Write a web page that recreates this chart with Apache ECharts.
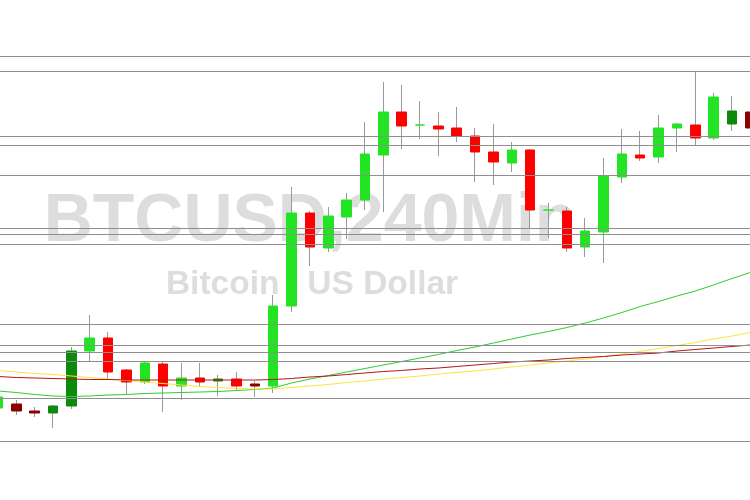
<!DOCTYPE html>
<html>
<head>
<meta charset="utf-8">
<script src="https://cdn.jsdelivr.net/npm/echarts@6/dist/echarts.min.js"></script>
<style>
html,body{margin:0;padding:0;background:#fff;}
#chart{width:750px;height:500px;}
</style>
</head>
<body>
<div id="chart"></div>
<script>
// Bars (4-hour candles), index 0..41
const bars = ['b00','b01','b02','b03','b04','b05','b06','b07','b08','b09','b10','b11','b12','b13','b14','b15','b16','b17','b18','b19','b20','b21','b22','b23','b24','b25','b26','b27','b28','b29','b30','b31','b32','b33','b34','b35','b36','b37','b38','b39','b40','b41'];
const openV  = [92,96,89,87,94,149,162,130,118,136,114,122,119,121,116,114,194,287,252,283,300,345,388,375,374,372,364,348,337,350,290,289,253,268,323,345,343,372,375,362,376,388];
const closeV = [103,89,87,94,149,162,128,118,137,114,122,118,121,114,114,194,287,253,284,300,346,388,374,375,371,364,348,338,350,290,290,252,269,324,346,342,372,376,362,403,389,372];
const lowV   = [89,85,83,72,91,139,121,106,116,88,100,113,104,110,103,107,188,234,248,261,290,288,351,361,344,358,318,315,328,272,262,248,243,237,317,339,337,348,354,360,369,369];
const highV  = [105,100,93,95,153,185,168,131,139,139,137,137,125,128,119,205,313,289,293,307,378,418,415,399,388,393,372,376,358,351,297,293,282,342,371,369,385,377,428,407,404,395];
// candle shade: 1 = dark tone
const darkTone = [0,1,1,1,1,0,0,0,0,0,0,0,1,0,1,0,0,0,0,0,0,0,0,0,0,0,0,0,0,0,0,0,0,0,0,0,0,0,0,0,1,1];
// moving averages
const maGreen  = [109,107.5,105.5,104,103.5,104,105,105.5,106.5,107,107.5,108,108.5,109.5,110.5,112,117,121,124.5,128,131.5,135,138.5,142,145.5,149.5,153,157,161,165,168.5,172.5,177,182,187.5,193.5,198.5,204,209,215,221.5,227.5];
const maYellow = [129.5,128,126.5,125.5,124,122.5,121,119.5,118,116.5,115,113.5,112.5,111.5,111,111,112.5,114,115.5,117.5,119,121,122.5,124,126,127.5,129,131,133,135,137,139,141,143.5,146,148.5,151.5,154.5,157.5,161,164,167.5];
const maRed    = [123.5,122.5,122,121.5,121,120.5,120.5,120,120,120,120,120,120,120,120,120.5,121.5,123,124,125.5,127,128.5,129.5,131,132,133.5,135,136.5,138,139,140,141.5,142.5,143.5,145,146,147,149,150.5,152,153.5,155];
// horizontal price levels
const levels = [443.5,428.5,363.5,354.5,324.5,271.5,265.5,255.5,175.5,154.5,147.5,138.5,101.5,58.5];
const symbolText = 'BTCUSD,240Min';
const nameText = 'Bitcoin   US Dollar';

const C = {up:'#22e422', upDark:'#0b8a0b', down:'#ff0000', downDark:'#8b0000', wick:'#9a9a9a'};

const wickData = bars.map((_, i) => [openV[i], closeV[i], lowV[i], highV[i]]);
const bodyData = bars.map((_, i) => {
  const o = openV[i], c = closeV[i];
  const up = c >= o;
  const col = up ? (darkTone[i] ? C.upDark : C.up) : (darkTone[i] ? C.downDark : C.down);
  return {
    value: [o, c, Math.min(o, c), Math.max(o, c)],
    itemStyle: {color: col, color0: col, borderColor: col, borderColor0: col}
  };
});

const chart = echarts.init(document.getElementById('chart'), null, {renderer: 'canvas'});
chart.setOption({
  animation: false,
  backgroundColor: '#ffffff',
  grid: {left: -11.2, right: -9.5, top: 0, bottom: 0, outerBoundsMode: 'none', containLabel: false},
  xAxis: {type: 'category', data: bars, show: false, boundaryGap: true},
  yAxis: {type: 'value', min: 0, max: 500, show: false, splitLine: {show: false}},
  graphic: [
    {type: 'text', z: -10, x: 310, y: 222, style: {text: symbolText, fill: '#dddddd', font: 'bold 68px "Liberation Sans", Arial, sans-serif', textAlign: 'center', textVerticalAlign: 'middle'}},
    {type: 'text', z: -10, x: 312, y: 285, style: {text: nameText, fill: '#dddddd', font: 'bold 33.5px "Liberation Sans", Arial, sans-serif', textAlign: 'center', textVerticalAlign: 'middle'}}
  ],
  series: [
    {
      type: 'candlestick', name: 'wick', data: wickData, barWidth: 1, z: 2,
      itemStyle: {color: C.wick, color0: C.wick, borderColor: C.wick, borderColor0: C.wick, borderWidth: 1},
      markLine: {
        silent: true, symbol: ['none','none'], label: {show: false},
        lineStyle: {color: '#8e8e8e', width: 1, type: 'solid'},
        data: levels.map(v => ({yAxis: v}))
      }
    },
    {
      type: 'candlestick', name: 'body', data: bodyData, barWidth: 10, z: 3,
      itemStyle: {borderWidth: 1}
    },
    {type: 'line', name: 'MA green', data: maGreen, symbol: 'none', z: 4, lineStyle: {color: '#2fcb2f', width: 1}},
    {type: 'line', name: 'MA yellow', data: maYellow, symbol: 'none', z: 4, lineStyle: {color: '#f7e83a', width: 1}},
    {type: 'line', name: 'MA red', data: maRed, symbol: 'none', z: 4, lineStyle: {color: '#b5161b', width: 1}}
  ]
});
</script>
</body>
</html>
